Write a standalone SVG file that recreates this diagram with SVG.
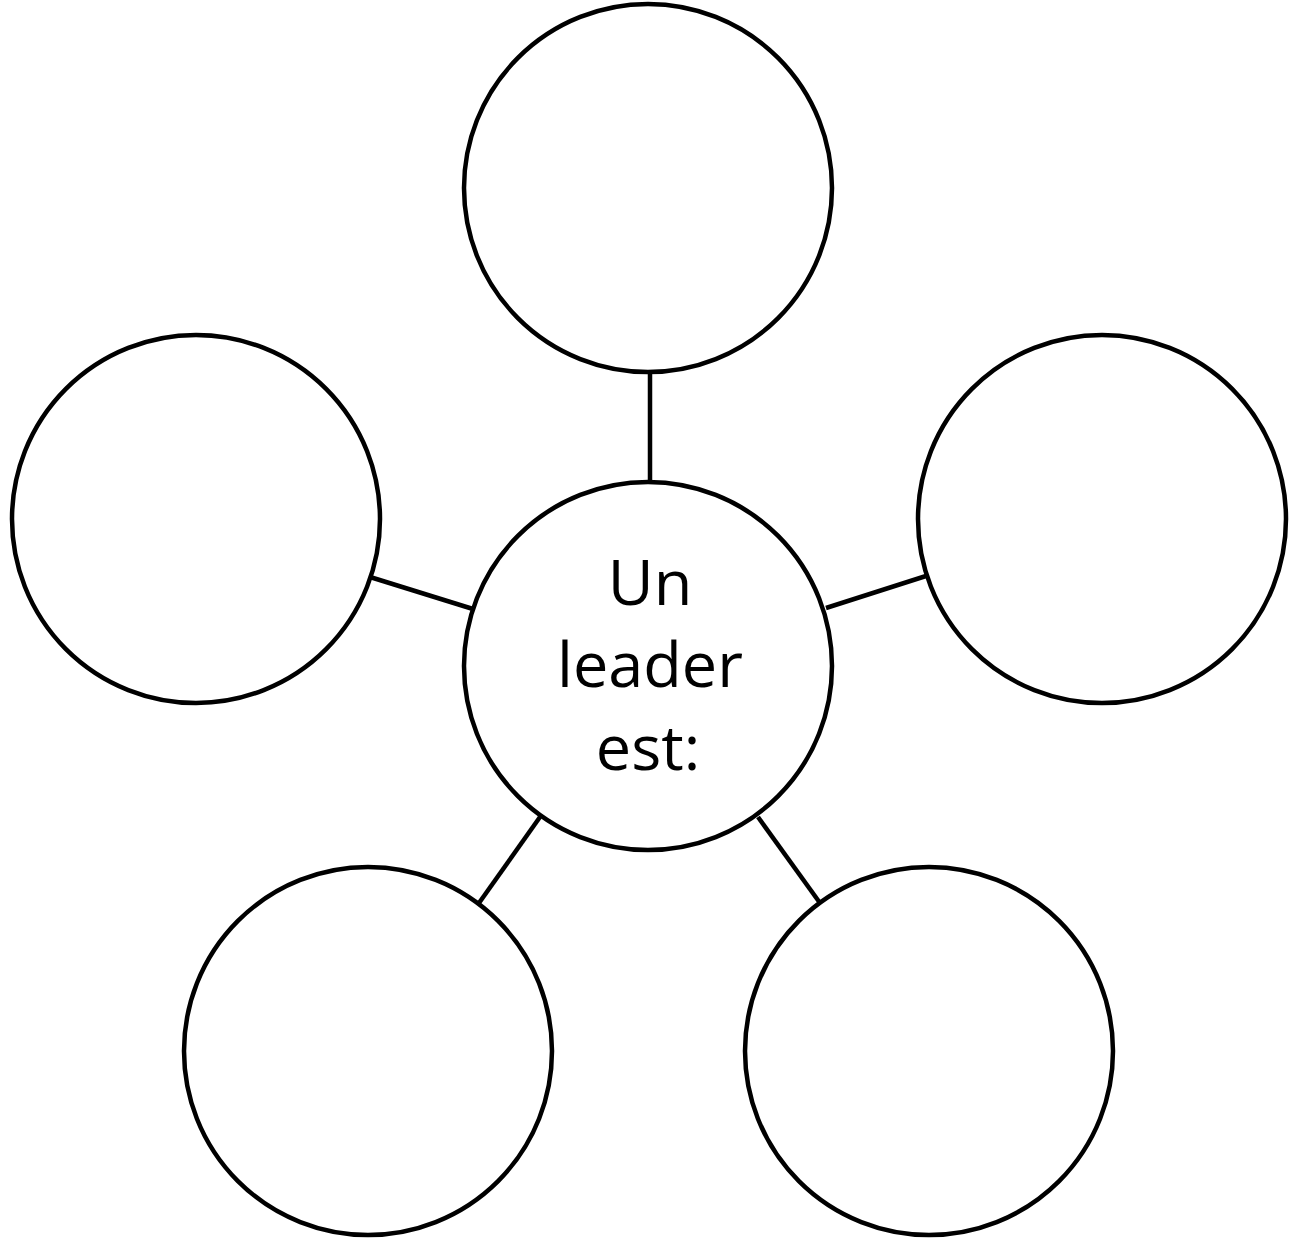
<svg xmlns="http://www.w3.org/2000/svg" width="1294" height="1241" viewBox="0 0 1294 1241">
<style>
.n{fill:#fff;stroke:#000;stroke-width:4.5}
.c{stroke:#000;stroke-width:4.5;fill:none}
.t{font-family:"Open Sans","Liberation Sans",sans-serif;font-size:63px;fill:#000;text-anchor:middle}
</style>
<rect width="1294" height="1241" fill="#fff"/>
<g id="connectors">
<line class="c" x1="650" y1="372" x2="650" y2="484"/>
<line class="c" x1="370" y1="577" x2="473" y2="609"/>
<line class="c" x1="826" y1="608" x2="926" y2="576"/>
<line class="c" x1="540" y1="817" x2="479" y2="903"/>
<line class="c" x1="758" y1="817" x2="820" y2="903"/>
</g>
<g id="top"><circle class="n" cx="648" cy="188" r="184"/></g>
<g id="left"><circle class="n" cx="196" cy="519" r="184"/></g>
<g id="right"><circle class="n" cx="1102" cy="519" r="184"/></g>
<g id="bottom-left"><circle class="n" cx="368" cy="1051" r="184"/></g>
<g id="bottom-right"><circle class="n" cx="929" cy="1051" r="184"/></g>
<g id="center"><circle class="n" cx="648" cy="666" r="184"/>
<text class="t" x="650" y="605">Un</text>
<text class="t" x="650" y="687">leader</text>
<text class="t" x="648" y="770">est:</text>
</g>
</svg>
